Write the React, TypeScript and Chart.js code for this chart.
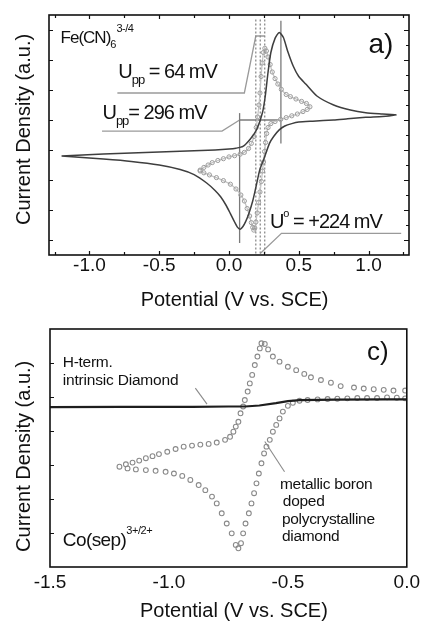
import React, { useEffect, useRef } from "react";
import { Chart, registerables } from "chart.js";
Chart.register(...registerables);

const FONT = "'Liberation Sans', Arial, Helvetica, sans-serif";
const INK = "#111111";

// ---------------- Panel a) Fe(CN)6 ----------------
const aXTickLabels = [-1.0, -0.5, 0.0, 0.5, 1.0];
const aXMinor = [-1.25, -0.75, -0.25, 0.25, 0.75, 1.25];
const aYMajor = [0.5, 1.5, 2.5, 3.5, 4.5, 5.5, 6.5, 7.5];
const aYMinor = [1, 2, 3, 4, 5, 6, 7];

// wide CV (Upp = 296 mV), solid
const aSolidV = [-1.2, -0.9, -0.6, -0.3, -0.1, 0.0, 0.05, 0.1, 0.15, 0.2, 0.24, 0.26, 0.28, 0.3, 0.33, 0.36, 0.39, 0.42, 0.46, 0.5, 0.55, 0.63, 0.75, 0.87, 0.98, 1.1, 1.2,
  1.1, 0.98, 0.85, 0.75, 0.6, 0.5, 0.45, 0.4, 0.36, 0.32, 0.29, 0.25, 0.22, 0.19, 0.17, 0.14, 0.12, 0.1, 0.08, 0.06, 0.04, 0.01, -0.02, -0.06, -0.1, -0.16, -0.25, -0.35, -0.5, -0.7, -0.9, -1.2];
const aSolidI = [3.30, 3.37, 3.42, 3.47, 3.50, 3.53, 3.56, 3.62, 3.85, 4.20, 4.75, 5.30, 6.10, 6.75, 7.22, 7.42, 7.25, 6.80, 6.30, 5.95, 5.70, 5.30, 5.00, 4.83, 4.74, 4.70, 4.67,
  4.62, 4.59, 4.54, 4.50, 4.46, 4.43, 4.38, 4.30, 4.17, 3.95, 3.72, 3.20, 2.83, 2.20, 1.80, 1.35, 1.12, 0.95, 0.86, 0.93, 1.10, 1.38, 1.65, 1.94, 2.15, 2.40, 2.68, 2.85, 3.00, 3.12, 3.20, 3.30];

// narrow CV (Upp = 64 mV), open circles
const aCircV = [-0.207, -0.18, -0.15, -0.12, -0.08, -0.04, 0.0, 0.04, 0.08, 0.11, 0.14, 0.16, 0.18, 0.195, 0.205, 0.215, 0.222, 0.23, 0.238, 0.247, 0.257, 0.268, 0.28, 0.295, 0.31, 0.33, 0.35, 0.375, 0.41, 0.44, 0.48, 0.52, 0.555, 0.58,
  0.56, 0.53, 0.49, 0.45, 0.41, 0.37, 0.33, 0.3, 0.28, 0.27, 0.262, 0.255, 0.247, 0.24, 0.232, 0.222, 0.212, 0.202, 0.193, 0.185, 0.178, 0.17, 0.16, 0.148, 0.13, 0.11, 0.085, 0.05, 0.01, -0.04, -0.09, -0.14, -0.18, -0.207];
const aCircI = [2.83, 2.92, 3.0, 3.08, 3.15, 3.21, 3.27, 3.31, 3.36, 3.42, 3.55, 3.72, 3.95, 4.25, 4.6, 5.0, 5.4, 5.95, 6.4, 6.75, 6.89, 6.8, 6.6, 6.35, 6.1, 5.88, 5.7, 5.52, 5.35, 5.28, 5.2, 5.12, 5.05, 4.94,
  4.85, 4.78, 4.7, 4.64, 4.58, 4.52, 4.45, 4.38, 4.25, 4.05, 3.75, 3.45, 3.1, 2.8, 2.45, 2.1, 1.75, 1.4, 1.1, 0.9, 0.83, 0.92, 1.08, 1.3, 1.55, 1.8, 2.0, 2.2, 2.36, 2.48, 2.58, 2.67, 2.74, 2.8];

// peak markers of the wide CV
const aPeakCathV = [0.076, 0.076];
const aPeakCathI = [0.4, 4.73];
const aPeakAnodV = [0.372, 0.372];
const aPeakAnodI = [3.72, 7.81];
const aSplitV = [0.076, 0.372];
const aSplitI = [4.5, 4.5];
// dotted markers of the narrow CV
const aDotCathV = [0.192, 0.192];
const aDotMidV = [0.224, 0.224];
const aDotAnodV = [0.256, 0.256];
const aDotI = [0.05, 7.85];
// leaders
const aLead64V = [0.256, 0.192, 0.11, -0.8];
const aLead64I = [7.3, 7.3, 5.4, 5.4];
const aLead296V = [-0.91, -0.05, 0.076];
const aLead296I = [4.13, 4.13, 4.5];
const aLeadU0V = [0.224, 0.376, 1.234];
const aLeadU0I = [0.05, 0.72, 0.72];

// ---------------- Panel c) Co(sep) ----------------
const cXTickLabels = [-1.5, -1.0, -0.5, 0.0];
const cYMajor = [1, 2, 3, 4, 5, 6];

const cHtermV = [-1.5, -1.2, -0.9, -0.75, -0.68, -0.62, -0.55, -0.5, -0.45, -0.3, -0.1, 0.0];
const cHtermI = [4.70, 4.71, 4.71, 4.72, 4.72, 4.75, 4.82, 4.88, 4.91, 4.92, 4.93, 4.93];

const cBddV = [-1.208, -1.181, -1.153, -1.125, -1.097, -1.069, -1.042, -1.007, -0.972, -0.938, -0.903, -0.868, -0.833, -0.799, -0.764, -0.743, -0.729, -0.719, -0.708, -0.699, -0.688, -0.681, -0.669, -0.660, -0.650, -0.639, -0.628, -0.618, -0.611, -0.597, -0.583, -0.563, -0.535, -0.500, -0.465, -0.431, -0.403, -0.361, -0.319, -0.278, -0.222, -0.181, -0.139, -0.097, -0.056, -0.007,
  -0.007, -0.042, -0.083, -0.125, -0.167, -0.208, -0.250, -0.292, -0.333, -0.375, -0.417, -0.451, -0.479, -0.500, -0.521, -0.535, -0.549, -0.563, -0.576, -0.590, -0.600, -0.611, -0.622, -0.632, -0.642, -0.653, -0.664, -0.678, -0.688, -0.697, -0.708, -0.719, -0.736, -0.757, -0.778, -0.799, -0.819, -0.847, -0.875, -0.910, -0.944, -0.979, -1.014, -1.056, -1.097, -1.139, -1.174];
const cBddI = [2.95, 3.02, 3.07, 3.13, 3.20, 3.26, 3.32, 3.39, 3.47, 3.54, 3.57, 3.60, 3.62, 3.66, 3.74, 3.83, 3.98, 4.13, 4.27, 4.52, 4.72, 4.91, 5.16, 5.40, 5.65, 5.94, 6.19, 6.43, 6.58, 6.56, 6.40, 6.19, 6.04, 5.89, 5.79, 5.68, 5.58, 5.50, 5.42, 5.32, 5.28, 5.25, 5.23, 5.21, 5.19, 5.19,
  4.96, 4.98, 4.99, 4.97, 4.97, 4.97, 4.96, 4.95, 4.94, 4.93, 4.91, 4.89, 4.83, 4.74, 4.57, 4.37, 4.18, 3.98, 3.74, 3.54, 3.34, 3.05, 2.75, 2.46, 2.17, 1.87, 1.58, 1.28, 0.99, 0.70, 0.55, 0.65, 0.99, 1.28, 1.58, 1.87, 2.07, 2.26, 2.41, 2.56, 2.68, 2.75, 2.80, 2.83, 2.85, 2.87, 2.90];

const cLeadHV = [-0.889, -0.84];
const cLeadHI = [5.26, 4.79];
const cLeadBV = [-0.514, -0.597];
const cLeadBI = [2.8, 3.69];

// ---------------- helpers ----------------
const pts = (xs: number[], ys: number[]) => xs.map((x, i) => ({ x, y: ys[i] }));

const lineDs = (xs: number[], ys: number[], color: string, width: number, dash: number[] = []) => ({
  data: pts(xs, ys),
  showLine: true,
  borderColor: color,
  borderWidth: width,
  borderDash: dash,
  pointRadius: 0,
  fill: false,
  tension: 0,
});

type Seg = { t: string; s: number; dy?: number; ls?: number };
type Label = { x: number; y: number; segs: Seg[] };
type TickSpec = { side: "bottom" | "top" | "left" | "right"; values: number[]; len: number };

function decor(ticks: TickSpec[], labels: Label[]) {
  return {
    id: "decor",
    afterDatasetsDraw(chart: any) {
      const { ctx, chartArea: a } = chart;
      const xs = chart.scales.x;
      const ys = chart.scales.y;
      ctx.save();
      ctx.strokeStyle = INK;
      ctx.lineWidth = 1.2;
      ctx.beginPath();
      for (const t of ticks) {
        for (const v of t.values) {
          if (t.side === "bottom" || t.side === "top") {
            const p = Math.round(xs.getPixelForValue(v)) + 0.5;
            const y0 = t.side === "bottom" ? a.bottom : a.top;
            const dir = t.side === "bottom" ? -1 : 1;
            ctx.moveTo(p, y0);
            ctx.lineTo(p, y0 + dir * t.len);
          } else {
            const p = Math.round(ys.getPixelForValue(v)) + 0.5;
            const x0 = t.side === "left" ? a.left : a.right;
            const dir = t.side === "left" ? 1 : -1;
            ctx.moveTo(x0, p);
            ctx.lineTo(x0 + dir * t.len, p);
          }
        }
      }
      ctx.stroke();
      ctx.lineWidth = 1.6;
      ctx.strokeRect(a.left, a.top, a.right - a.left, a.bottom - a.top);
      ctx.fillStyle = INK;
      ctx.textBaseline = "middle";
      ctx.textAlign = "left";
      for (const L of labels) {
        let px = xs.getPixelForValue(L.x);
        const py = ys.getPixelForValue(L.y);
        for (const s of L.segs) {
          ctx.font = `${s.s}px ${FONT}`;
          (ctx as any).letterSpacing = `${s.ls ?? 0}px`;
          ctx.fillText(s.t, px, py + (s.dy || 0));
          px += ctx.measureText(s.t).width;
        }
      }
      (ctx as any).letterSpacing = "0px";
      ctx.restore();
    },
  };
}

function baseOptions(o: any) {
  return {
    animation: false,
    responsive: false,
    devicePixelRatio: 1,
    events: [],
    plugins: { legend: { display: false }, tooltip: { enabled: false } },
    layout: { padding: o.padding },
    scales: {
      x: {
        type: "linear",
        min: o.xmin,
        max: o.xmax,
        afterBuildTicks: (s: any) => { s.ticks = o.xticks.map((v: number) => ({ value: v })); },
        afterFit: (s: any) => { s.height = o.xh; },
        grid: { display: false, drawTicks: false },
        border: { display: false },
        ticks: {
          autoSkip: false,
          maxRotation: 0,
          padding: o.tickPad,
          color: INK,
          font: { family: FONT, size: 19, lineHeight: 1 },
          callback: (v: number) => Number(v).toFixed(1),
        },
        title: {
          display: true,
          text: "  Potential (V vs. SCE)",
          color: INK,
          font: { family: FONT, size: 20, lineHeight: 1 },
          padding: { top: 0, bottom: 0 },
        },
      },
      y: {
        type: "linear",
        min: o.ymin,
        max: o.ymax,
        afterFit: (s: any) => { s.width = o.yw; },
        grid: { display: false, drawTicks: false },
        border: { display: false },
        ticks: { display: false },
        title: {
          display: true,
          text: o.ytitle,
          color: INK,
          font: { family: FONT, size: 20, lineHeight: 1 },
          padding: { top: 14, bottom: 0 },
        },
      },
    },
  };
}

const configA = () => ({
  type: "scatter",
  data: {
    datasets: [
      { ...lineDs(aSolidV, aSolidI, "#3e3e3e", 1.5), tension: 0.2 },
      {
        data: pts(aCircV, aCircI),
        showLine: true,
        borderColor: "#c4c4c4",
        borderWidth: 1.3,
        pointRadius: 2.1,
        pointBorderWidth: 1,
        pointBorderColor: "#9c9c9c",
        pointBackgroundColor: "rgba(255,255,255,0)",
        fill: false,
        tension: 0.2,
      },
      lineDs(aPeakCathV, aPeakCathI, "#7a7a7a", 1.3),
      lineDs(aPeakAnodV, aPeakAnodI, "#7a7a7a", 1.3),
      lineDs(aSplitV, aSplitI, "#7a7a7a", 1.3),
      lineDs(aDotCathV, aDotI, "#8c8c8c", 1.3, [2, 2]),
      lineDs(aDotMidV, aDotI, "#8c8c8c", 1.3, [2, 2]),
      lineDs(aDotAnodV, aDotI, "#8c8c8c", 1.3, [2, 2]),
      lineDs(aLead64V, aLead64I, "#9a9a9a", 1.3),
      lineDs(aLead296V, aLead296I, "#9a9a9a", 1.3),
      lineDs(aLeadU0V, aLeadU0I, "#9a9a9a", 1.3),
    ],
  },
  options: baseOptions({
    padding: { top: 15, right: 17, left: 0, bottom: 0 },
    xmin: -1.29, xmax: 1.29, xticks: aXTickLabels, xh: 55, tickPad: 1,
    ymin: 0, ymax: 8, yw: 49, ytitle: "  Current Density (a.u.)",
  }),
  plugins: [
    decor(
      [
        { side: "bottom", values: aXTickLabels, len: 4 },
        { side: "bottom", values: aXMinor, len: 3 },
        { side: "top", values: aXTickLabels, len: 4 },
        { side: "top", values: aXMinor, len: 3 },
        { side: "left", values: aYMajor, len: 4 },
        { side: "right", values: aYMajor, len: 5 },
        { side: "right", values: aYMinor, len: 3 },
      ],
      [
        { x: -1.207, y: 7.23, segs: [{ t: "Fe(CN)", s: 17, ls: -1 }, { t: "6", s: 11, dy: 7 }, { t: "3-/4", s: 11, dy: -9, ls: -0.5 }] },
        { x: 1.0, y: 7.0, segs: [{ t: "a)", s: 28 }] },
        { x: -0.793, y: 6.07, segs: [{ t: "U", s: 20, ls: -1 }, { t: "pp", s: 13, dy: 8, ls: -1 }, { t: " = 64 mV", s: 20, ls: -1 }] },
        { x: -0.907, y: 4.73, segs: [{ t: "U", s: 20, ls: -1 }, { t: "pp", s: 13, dy: 8, ls: -1 }, { t: "= 296 mV", s: 20, ls: -1 }] },
        { x: 0.293, y: 1.1, segs: [{ t: "U", s: 20, ls: -1 }, { t: "o", s: 11, dy: -8, ls: -1 }, { t: " = +224 mV", s: 20, ls: -1 }] },
      ]
    ),
  ],
});

const configC = () => ({
  type: "scatter",
  data: {
    datasets: [
      lineDs(cHtermV, cHtermI, "#1e1e1e", 2.2),
      {
        data: pts(cBddV, cBddI),
        showLine: false,
        pointRadius: 2.4,
        pointBorderWidth: 1.1,
        pointBorderColor: "#8a8a8a",
        pointBackgroundColor: "rgba(255,255,255,0)",
      },
      lineDs(cLeadHV, cLeadHI, "#8a8a8a", 1.1),
      lineDs(cLeadBV, cLeadBI, "#8a8a8a", 1.1),
    ],
  },
  options: baseOptions({
    padding: { top: 19, right: 16, left: 0, bottom: 0 },
    xmin: -1.5, xmax: 0, xticks: cXTickLabels, xh: 54, tickPad: 6,
    ymin: 0, ymax: 7, yw: 50, ytitle: "Current Density (a.u.)   ",
  }),
  plugins: [
    decor(
      [{ side: "left", values: cYMajor, len: 4 }],
      [
        { x: -1.446, y: 6.0, segs: [{ t: "H-term.", s: 15.5, ls: -0.3 }] },
        { x: -1.446, y: 5.47, segs: [{ t: "intrinsic Diamond", s: 15.5, ls: -0.2 }] },
        { x: -0.533, y: 2.41, segs: [{ t: "metallic boron", s: 15.5, ls: -0.3 }] },
        { x: -0.521, y: 1.91, segs: [{ t: "doped", s: 15.5, ls: -0.3 }] },
        { x: -0.525, y: 1.38, segs: [{ t: "polycrystalline", s: 15.5, ls: -0.3 }] },
        { x: -0.525, y: 0.88, segs: [{ t: "diamond", s: 15.5, ls: -0.3 }] },
        { x: -0.167, y: 6.29, segs: [{ t: "c)", s: 26 }] },
        { x: -1.446, y: 0.76, segs: [{ t: "Co(sep)", s: 19, ls: -0.6 }, { t: "3+/2+", s: 11, dy: -10, ls: -0.4 }] },
      ]
    ),
  ],
});

function Panel({ config, top, height }: { config: () => any; top: number; height: number }) {
  const ref = useRef<HTMLCanvasElement | null>(null);
  useEffect(() => {
    const chart = new Chart(ref.current as HTMLCanvasElement, config());
    return () => chart.destroy();
  }, []);
  return (
    <canvas
      ref={ref}
      width={426}
      height={height}
      style={{ position: "absolute", left: 0, top, width: 426, height }}
    />
  );
}

export default function App() {
  return (
    <div style={{ position: "absolute", left: 0, top: 0, width: 426, height: 621, background: "#fff" }}>
      <Panel config={configA} top={0} height={310} />
      <Panel config={configC} top={310} height={311} />
    </div>
  );
}
